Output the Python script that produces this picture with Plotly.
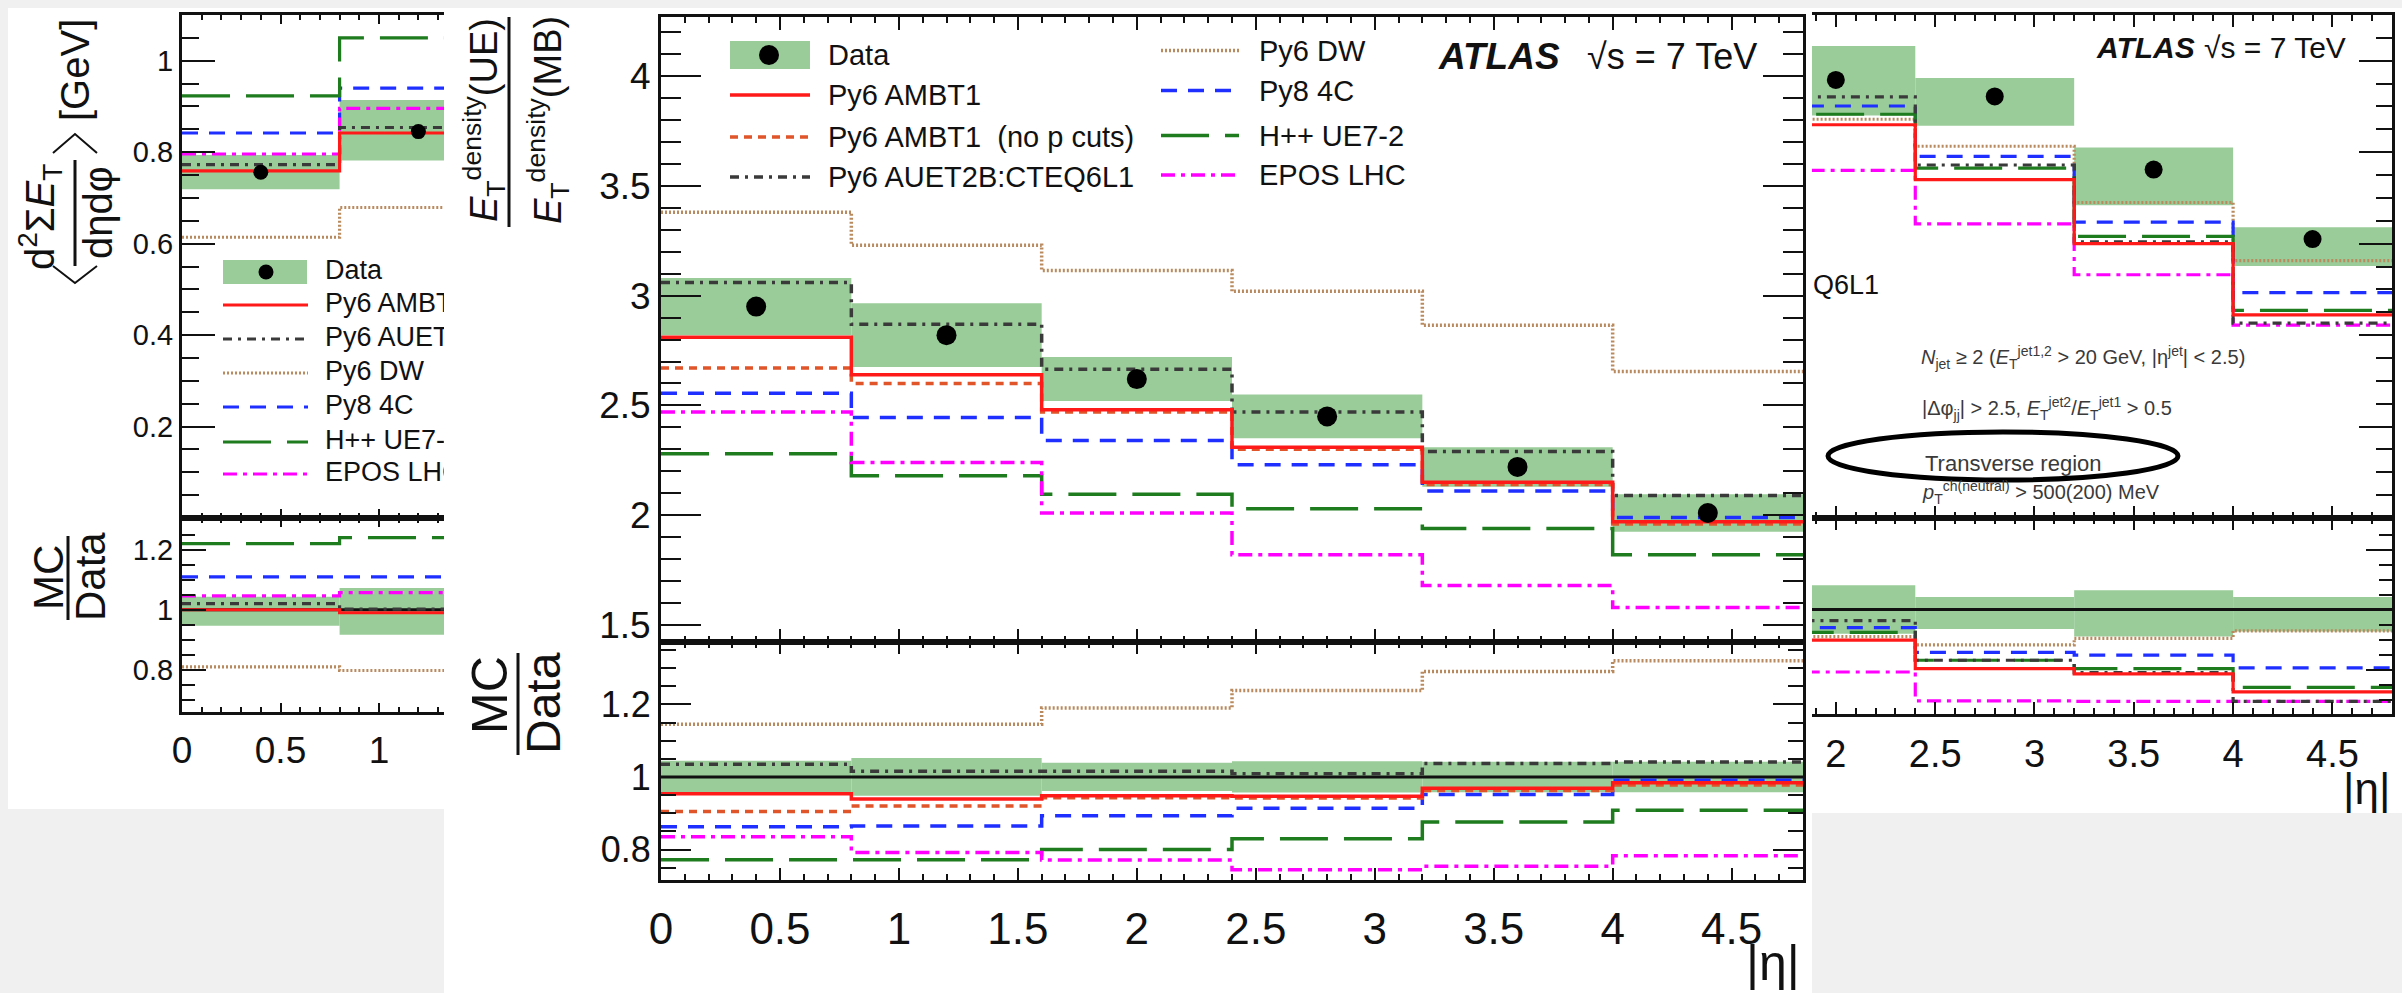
import plotly.graph_objects as go

W, H = 2402, 993
FONT = "Liberation Sans, Arial, Helvetica, sans-serif"
INK = "#111111"
BG = "#f0f0f0"
BAND = "#99cc99"

ETA_EDGES = [0.0, 0.8, 1.6, 2.4, 3.2, 4.0, 4.8]

# ---- transverse region (dijet selection): <d2 sum ET / deta dphi> [GeV] ----
TR_DATA = [0.756, 0.845, 0.958, 0.922, 0.762, 0.610]
TR_SYST_LO = [0.719, 0.782, 0.880, 0.858, 0.684, 0.551]
TR_SYST_HI = [0.794, 0.914, 1.032, 0.962, 0.810, 0.636]
TR_AMBT1 = [0.759, 0.842, 0.860, 0.740, 0.600, 0.444]
TR_AUET2B = [0.773, 0.854, 0.921, 0.772, 0.604, 0.426]
TR_DW = [0.614, 0.679, 0.872, 0.813, 0.690, 0.563]
TR_PY8_4C = [0.842, 0.940, 0.901, 0.791, 0.647, 0.493]
TR_HERWIG = [0.923, 1.050, 0.883, 0.765, 0.616, 0.454]
TR_EPOS = [0.796, 0.896, 0.760, 0.643, 0.532, 0.422]
# MC / Data
TR_R_SYST_LO = [0.947, 0.917, 0.919, 0.935, 0.910, 0.927]
TR_R_SYST_HI = [1.043, 1.072, 1.081, 1.042, 1.064, 1.042]
TR_R_AMBT1 = [1.000, 0.990, 0.898, 0.803, 0.786, 0.726]
TR_R_AUET2B = [1.020, 1.002, 0.963, 0.831, 0.790, 0.694]
TR_R_DW = [0.810, 0.798, 0.910, 0.882, 0.904, 0.929]
TR_R_PY8_4C = [1.109, 1.109, 0.940, 0.857, 0.848, 0.806]
TR_R_HERWIG = [1.220, 1.240, 0.924, 0.831, 0.803, 0.741]
TR_R_EPOS = [1.046, 1.057, 0.792, 0.696, 0.694, 0.694]

# ---- ET density ratio, underlying event / minimum bias ----
MID_DATA = [2.95, 2.82, 2.62, 2.45, 2.22, 2.01]
MID_SYST = [0.130, 0.145, 0.100, 0.100, 0.090, 0.085]
MID_AMBT1 = [2.81, 2.64, 2.48, 2.31, 2.15, 1.97]
MID_AMBT1_NOPCUT = [2.67, 2.60, 2.47, 2.30, 2.14, 1.96]
MID_AUET2B = [3.06, 2.87, 2.665, 2.47, 2.29, 2.09]
MID_DW = [3.38, 3.23, 3.115, 3.02, 2.865, 2.655]
MID_PY8_4C = [2.555, 2.445, 2.34, 2.23, 2.11, 1.99]
MID_HERWIG = [2.28, 2.18, 2.095, 2.03, 1.94, 1.82]
MID_EPOS = [2.47, 2.24, 2.01, 1.82, 1.68, 1.58]
# MC / Data
MID_R_SYST = [0.045, 0.052, 0.039, 0.043, 0.042, 0.042]
MID_R_AMBT1 = [0.954, 0.939, 0.948, 0.947, 0.969, 0.984]
MID_R_AMBT1_NOPCUT = [0.905, 0.920, 0.943, 0.942, 0.963, 0.978]
MID_R_AUET2B = [1.035, 1.016, 1.016, 1.009, 1.037, 1.041]
MID_R_DW = [1.145, 1.145, 1.190, 1.238, 1.291, 1.320]
MID_R_PY8_4C = [0.863, 0.865, 0.893, 0.914, 0.952, 0.991]
MID_R_HERWIG = [0.772, 0.772, 0.800, 0.830, 0.876, 0.908]
MID_R_EPOS = [0.835, 0.792, 0.771, 0.744, 0.754, 0.783]

# ---- tick labels ----
MID_X_TICKS = [0, 0.5, 1, 1.5, 2, 2.5, 3, 3.5, 4, 4.5]
MID_X_LABELS = ["0", "0.5", "1", "1.5", "2", "2.5", "3", "3.5", "4", "4.5"]
LEFT_X_TICKS = [0, 0.5, 1]
LEFT_X_LABELS = ["0", "0.5", "1"]
RIGHT_X_TICKS = [2, 2.5, 3, 3.5, 4, 4.5]
RIGHT_X_LABELS = ["2", "2.5", "3", "3.5", "4", "4.5"]
MID_Y_TICKS = [1.5, 2, 2.5, 3, 3.5, 4]
MID_Y_LABELS = ["1.5", "2", "2.5", "3", "3.5", "4"]
TR_Y_TICKS = [0.2, 0.4, 0.6, 0.8, 1.0]
TR_Y_LABELS = ["0.2", "0.4", "0.6", "0.8", "1"]
RATIO_TICKS = [0.8, 1.0, 1.2]
RATIO_LABELS = ["0.8", "1", "1.2"]

STYLE = {
    "ambt1": dict(color="#ff1a1a", dash="solid"),
    "nopcut": dict(color="#e0552a", dash="8px,6px"),
    "auet2b": dict(color="#3a3a3a", dash="9px,6px,3px,6px"),
    "dw": dict(color="#b98a5e", dash="2px,2px"),
    "py8": dict(color="#1f2fff", dash="16px,11px"),
    "herwig": dict(color="#1e7b1e", dash="48px,16px"),
    "epos": dict(color="#ff00ff", dash="14px,6px,4px,6px"),
}

CENTERS = [(a + b) / 2 for a, b in zip(ETA_EDGES[:-1], ETA_EDGES[1:])]
WIDTHS = [b - a for a, b in zip(ETA_EDGES[:-1], ETA_EDGES[1:])]


def fx(x):
    return x / W


def fy(y):
    return 1 - y / H


def hist(vals, xa, ya, key, width=3.2):
    st = STYLE[key]
    return go.Scatter(x=ETA_EDGES, y=list(vals) + [vals[-1]], mode="lines",
                      line=dict(color=st["color"], dash=st["dash"], width=width, shape="hv"),
                      xaxis=xa, yaxis=ya, showlegend=False, hoverinfo="skip")


def band(lo, hi, xa, ya):
    return go.Bar(x=CENTERS, y=[h - l for l, h in zip(lo, hi)], base=lo, width=WIDTHS,
                  marker=dict(color=BAND, line=dict(width=0)),
                  xaxis=xa, yaxis=ya, showlegend=False, hoverinfo="skip")


def unity(xa, ya):
    return go.Scatter(x=[ETA_EDGES[0], ETA_EDGES[-1]], y=[1, 1], mode="lines",
                      line=dict(color=INK, width=3), xaxis=xa, yaxis=ya,
                      showlegend=False, hoverinfo="skip")


def points(vals, xa, ya, size):
    return go.Scatter(x=CENTERS, y=vals, mode="markers",
                      marker=dict(color="black", size=size), xaxis=xa, yaxis=ya,
                      showlegend=False, hoverinfo="skip")


fig = go.Figure()

# ---- transverse-region panels, drawn twice (left and right views) ----
for xa, ya, xr, yr, msize in (("x", "y", "x2", "y2", 15), ("x5", "y5", "x6", "y6", 18)):
    fig.add_trace(band(TR_SYST_LO, TR_SYST_HI, xa, ya))
    fig.add_trace(hist(TR_DW, xa, ya, "dw"))
    fig.add_trace(hist(TR_PY8_4C, xa, ya, "py8"))
    fig.add_trace(hist(TR_HERWIG, xa, ya, "herwig"))
    fig.add_trace(hist(TR_EPOS, xa, ya, "epos"))
    fig.add_trace(hist(TR_AUET2B, xa, ya, "auet2b"))
    fig.add_trace(hist(TR_AMBT1, xa, ya, "ambt1"))
    fig.add_trace(points(TR_DATA, xa, ya, msize))

    fig.add_trace(band(TR_R_SYST_LO, TR_R_SYST_HI, xr, yr))
    fig.add_trace(unity(xr, yr))
    fig.add_trace(hist(TR_R_DW, xr, yr, "dw"))
    fig.add_trace(hist(TR_R_PY8_4C, xr, yr, "py8"))
    fig.add_trace(hist(TR_R_HERWIG, xr, yr, "herwig"))
    fig.add_trace(hist(TR_R_EPOS, xr, yr, "epos"))
    fig.add_trace(hist(TR_R_AUET2B, xr, yr, "auet2b"))
    fig.add_trace(hist(TR_R_AMBT1, xr, yr, "ambt1"))

# ---- UE / MB density ratio panel ----
fig.add_trace(band([d - e for d, e in zip(MID_DATA, MID_SYST)],
                   [d + e for d, e in zip(MID_DATA, MID_SYST)], "x3", "y3"))
fig.add_trace(hist(MID_DW, "x3", "y3", "dw", 3.5))
fig.add_trace(hist(MID_PY8_4C, "x3", "y3", "py8", 3.5))
fig.add_trace(hist(MID_HERWIG, "x3", "y3", "herwig", 3.5))
fig.add_trace(hist(MID_EPOS, "x3", "y3", "epos", 3.5))
fig.add_trace(hist(MID_AUET2B, "x3", "y3", "auet2b", 3.5))
fig.add_trace(hist(MID_AMBT1_NOPCUT, "x3", "y3", "nopcut", 3.5))
fig.add_trace(hist(MID_AMBT1, "x3", "y3", "ambt1", 3.5))
fig.add_trace(points(MID_DATA, "x3", "y3", 20))

fig.add_trace(band([1 - r for r in MID_R_SYST], [1 + r for r in MID_R_SYST], "x4", "y4"))
fig.add_trace(unity("x4", "y4"))
fig.add_trace(hist(MID_R_DW, "x4", "y4", "dw", 3.5))
fig.add_trace(hist(MID_R_PY8_4C, "x4", "y4", "py8", 3.5))
fig.add_trace(hist(MID_R_HERWIG, "x4", "y4", "herwig", 3.5))
fig.add_trace(hist(MID_R_EPOS, "x4", "y4", "epos", 3.5))
fig.add_trace(hist(MID_R_AUET2B, "x4", "y4", "auet2b", 3.5))
fig.add_trace(hist(MID_R_AMBT1_NOPCUT, "x4", "y4", "nopcut", 3.5))
fig.add_trace(hist(MID_R_AMBT1, "x4", "y4", "ambt1", 3.5))

# ---- axes ----
LEFT_X_RANGE = [0.0, 1.33]
LEFT_PX = (182, 444)
TR_Y_RANGE = [0.0, 1.1]
TOP_PX = (15, 518)


def xaxis(px, rng, anchor, ticks, labels, show, size, mlen=12, nlen=6, standoff=0):
    return dict(domain=[fx(px[0]), fx(px[1])], range=rng, anchor=anchor,
                showline=True, linewidth=3, linecolor=INK, mirror="allticks",
                ticks="inside", ticklen=mlen, tickwidth=2, tickcolor=INK,
                tickmode="array", tickvals=ticks, ticktext=labels,
                minor=dict(dtick=0.1, tick0=0, ticks="inside", ticklen=nlen,
                           tickwidth=2, tickcolor=INK, showgrid=False),
                showgrid=False, zeroline=False, showticklabels=show,
                ticklabelstandoff=standoff,
                tickfont=dict(family=FONT, size=size, color=INK),
                automargin=False, fixedrange=True)


def yaxis(py, rng, anchor, ticks, labels, show, size, mlen, nlen, ndt,
          side="left", mirror=False):
    return dict(domain=[fy(py[1]), fy(py[0])], range=rng, anchor=anchor, side=side,
                showline=True, linewidth=3, linecolor=INK, mirror=mirror,
                ticks="inside", ticklen=mlen, tickwidth=2, tickcolor=INK,
                tickmode="array", tickvals=ticks, ticktext=labels,
                minor=dict(dtick=ndt, tick0=0, ticks="inside", ticklen=nlen,
                           tickwidth=2, tickcolor=INK, showgrid=False),
                showgrid=False, zeroline=False, showticklabels=show,
                tickfont=dict(family=FONT, size=size, color=INK),
                automargin=False, fixedrange=True)


fig.update_layout(
    xaxis=xaxis(LEFT_PX, LEFT_X_RANGE, "y", LEFT_X_TICKS, LEFT_X_LABELS, False, 37, 9, 5),
    yaxis=yaxis(TOP_PX, TR_Y_RANGE, "x", TR_Y_TICKS, TR_Y_LABELS, True, 29, 33, 17, 0.05),
    xaxis2=xaxis(LEFT_PX, LEFT_X_RANGE, "y2", LEFT_X_TICKS, LEFT_X_LABELS, True, 37, 9, 5, 4),
    yaxis2=yaxis((518, 712), [0.66, 1.305], "x2", RATIO_TICKS, RATIO_LABELS, True, 29, 24, 13, 0.05),
    xaxis3=xaxis((661, 1803), [0, 4.8], "y3", MID_X_TICKS, MID_X_LABELS, False, 44, 13, 6),
    yaxis3=yaxis((17, 642), [1.4226, 4.269], "x3", MID_Y_TICKS, MID_Y_LABELS, True, 37, 40, 20, 0.1,
                 mirror="allticks"),
    xaxis4=xaxis((661, 1803), [0, 4.8], "y4", MID_X_TICKS, MID_X_LABELS, True, 44, 12, 6, 8),
    yaxis4=yaxis((642, 880), [0.716, 1.372], "x4", RATIO_TICKS, RATIO_LABELS, True, 36, 30, 15, 0.05,
                 mirror="allticks"),
    xaxis5=xaxis((1812, 2392), [1.88, 4.8], "y5", RIGHT_X_TICKS, RIGHT_X_LABELS, False, 38, 12, 6),
    yaxis5=yaxis(TOP_PX, TR_Y_RANGE, "x5", TR_Y_TICKS, TR_Y_LABELS, False, 29, 33, 16, 0.05,
                 side="right"),
    xaxis6=xaxis((1812, 2392), [1.88, 4.8], "y6", RIGHT_X_TICKS, RIGHT_X_LABELS, True, 38, 12, 6, 4),
    yaxis6=yaxis((518, 714), [0.652, 1.305], "x6", RATIO_TICKS, RATIO_LABELS, False, 29, 26, 13, 0.05,
                 side="right"),
)

# ---- page backgrounds ----
shapes = []
for x0, y0, x1, y1 in ((8, 8, 444, 809), (444, 8, 1812, 993), (1812, 8, 2402, 813)):
    shapes.append(dict(type="rect", xref="paper", yref="paper", layer="below",
                       x0=fx(x0), x1=fx(x1), y0=fy(y1), y1=fy(y0),
                       fillcolor="white", line=dict(width=0)))


def seg(x0, y0, x1, y1, color=INK, width=3, dash="solid"):
    shapes.append(dict(type="line", xref="paper", yref="paper", layer="above",
                       x0=fx(x0), x1=fx(x1), y0=fy(y0), y1=fy(y1),
                       line=dict(color=color, width=width, dash=dash)))


def box(x0, y0, x1, y1, fill):
    shapes.append(dict(type="rect", xref="paper", yref="paper", layer="above",
                       x0=fx(x0), x1=fx(x1), y0=fy(y1), y1=fy(y0),
                       fillcolor=fill, line=dict(width=0)))


def dot(cx, cy, r):
    shapes.append(dict(type="circle", xref="paper", yref="paper", layer="above",
                       x0=fx(cx - r), x1=fx(cx + r), y0=fy(cy + r), y1=fy(cy - r),
                       fillcolor="black", line=dict(width=0)))


def chevron(pts):
    path = "M " + " L ".join(f"{fx(x):.5f} {fy(y):.5f}" for x, y in pts)
    shapes.append(dict(type="path", xref="paper", yref="paper", layer="above",
                       path=path, line=dict(color=INK, width=2)))


annotations = []


def text(s, x, y, size, xanchor="left", angle=0, color=INK, yanchor="middle"):
    annotations.append(dict(text=s, x=fx(x), y=fy(y), xref="paper", yref="paper",
                            xanchor=xanchor, yanchor=yanchor, textangle=angle,
                            showarrow=False, font=dict(family=FONT, size=size, color=color)))


LEGEND_LABELS = {
    "ambt1": "Py6 AMBT1",
    "nopcut": "Py6 AMBT1  (no p cuts)",
    "auet2b": "Py6 AUET2B:CTEQ6L1",
    "dw": "Py6 DW",
    "py8": "Py8 4C",
    "herwig": "H++ UE7-2",
    "epos": "EPOS LHC",
}

# ---- legend of the UE / MB panel ----
box(730, 41, 810, 69, BAND)
dot(769, 55, 10)
text("Data", 826, 55, 29)
for key, yy in (("ambt1", 95), ("nopcut", 137), ("auet2b", 177)):
    seg(730, yy, 810, yy, STYLE[key]["color"], 3.5, STYLE[key]["dash"])
    text(LEGEND_LABELS[key], 826, yy, 29)
for key, yy in (("dw", 50.5), ("py8", 90.5), ("herwig", 135.5), ("epos", 175)):
    seg(1161, yy, 1239, yy, STYLE[key]["color"], 3.5, STYLE[key]["dash"])
    text(LEGEND_LABELS[key], 1257, yy, 29)

text("<b><i>ATLAS</i></b>", 1436, 57, 37)
text("√s = 7 TeV", 1585, 57, 36)

# ---- legend of the left view (text clipped by its own axes) ----
box(223, 260, 307, 284, BAND)
dot(266, 272, 7.5)
left_rows = [("Data", 272)]
for key, yy in (("ambt1", 305), ("auet2b", 339), ("dw", 373), ("py8", 407),
                ("herwig", 442), ("epos", 474)):
    seg(223, yy, 308, yy, STYLE[key]["color"], 3, STYLE[key]["dash"])
    left_rows.append((LEGEND_LABELS[key], yy))


def left_x(px):
    return LEFT_X_RANGE[0] + (px - LEFT_PX[0]) / (LEFT_PX[1] - LEFT_PX[0]) * (LEFT_X_RANGE[1] - LEFT_X_RANGE[0])


def left_y(py):
    return TR_Y_RANGE[0] + (TOP_PX[1] - py) / (TOP_PX[1] - TOP_PX[0]) * (TR_Y_RANGE[1] - TR_Y_RANGE[0])


fig.add_trace(go.Scatter(x=[left_x(325)] * len(left_rows), y=[left_y(r[1]) for r in left_rows],
                         text=[r[0] for r in left_rows], mode="text", textposition="middle right",
                         textfont=dict(family=FONT, size=27, color=INK), cliponaxis=True,
                         xaxis="x", yaxis="y", showlegend=False, hoverinfo="skip"))

# ---- right view labels ----
text("Q6L1", 1811, 285, 27)
text("<b><i>ATLAS</i></b>", 2094, 47, 30)
text("√s = 7 TeV", 2202, 47, 30)
text("<i>N</i><sub>jet</sub> ≥ 2 (<i>E</i><sub>T</sub><sup>jet1,2</sup> > 20 GeV, |η<sup>jet</sup>| < 2.5)",
     1919, 357, 20, color="#3a3a3a")
text("|Δφ<sub>jj</sub>| > 2.5, <i>E</i><sub>T</sub><sup>jet2</sup>/<i>E</i><sub>T</sub><sup>jet1</sup> > 0.5",
     1920, 408, 20, color="#3a3a3a")
text("Transverse region", 1923, 464, 22, color="#3a3a3a")
text("<i>p</i><sub>T</sub><sup>ch(neutral)</sup> > 500(200) MeV", 1920, 492, 20, color="#3a3a3a")
shapes.append(dict(type="circle", xref="paper", yref="paper", layer="above",
                   x0=fx(1828), x1=fx(2178), y0=fy(480), y1=fy(432),
                   line=dict(color="black", width=5)))

# ---- axis titles ----
text("|η|", 1802, 993, 50, xanchor="right", yanchor="bottom")
text("|η|", 2392, 788, 44, xanchor="right")

# UE / MB: E_T density ratio
text("<i>E</i><sub>T</sub><sup>density</sup>(UE)", 484, 120, 38, xanchor="center", angle=-90)
seg(509, 17, 509, 227, INK, 3)
text("<i>E</i><sub>T</sub><sup>density</sup>(MB)", 548, 120, 38, xanchor="center", angle=-90)
text("MC", 490, 695, 50, xanchor="center", angle=-90)
seg(518, 653, 518, 755, INK, 3)
text("Data", 543, 703, 48, xanchor="center", angle=-90)

# transverse region: <d2 sum ET / deta dphi> [GeV]
text("[GeV]", 75, 70, 40, xanchor="center", angle=-90)
chevron([(53, 153), (75, 134), (97, 153)])
text("d<sup>2</sup>Σ<i>E</i><sub>T</sub>", 40, 217, 40, xanchor="center", angle=-90)
seg(75, 160, 75, 266, INK, 3)
text("dηdφ", 98, 213, 40, xanchor="center", angle=-90)
chevron([(53, 266), (75, 283), (97, 266)])
text("MC", 48, 578, 42, xanchor="center", angle=-90)
seg(68, 536, 68, 620, INK, 3)
text("Data", 90, 577, 42, xanchor="center", angle=-90)

fig.update_layout(
    width=W, height=H, margin=dict(l=0, r=0, t=0, b=0),
    paper_bgcolor=BG, plot_bgcolor="rgba(0,0,0,0)",
    barmode="overlay", showlegend=False, font=dict(family=FONT, color=INK),
    shapes=shapes, annotations=annotations,
)

fig.write_html("out.html")
